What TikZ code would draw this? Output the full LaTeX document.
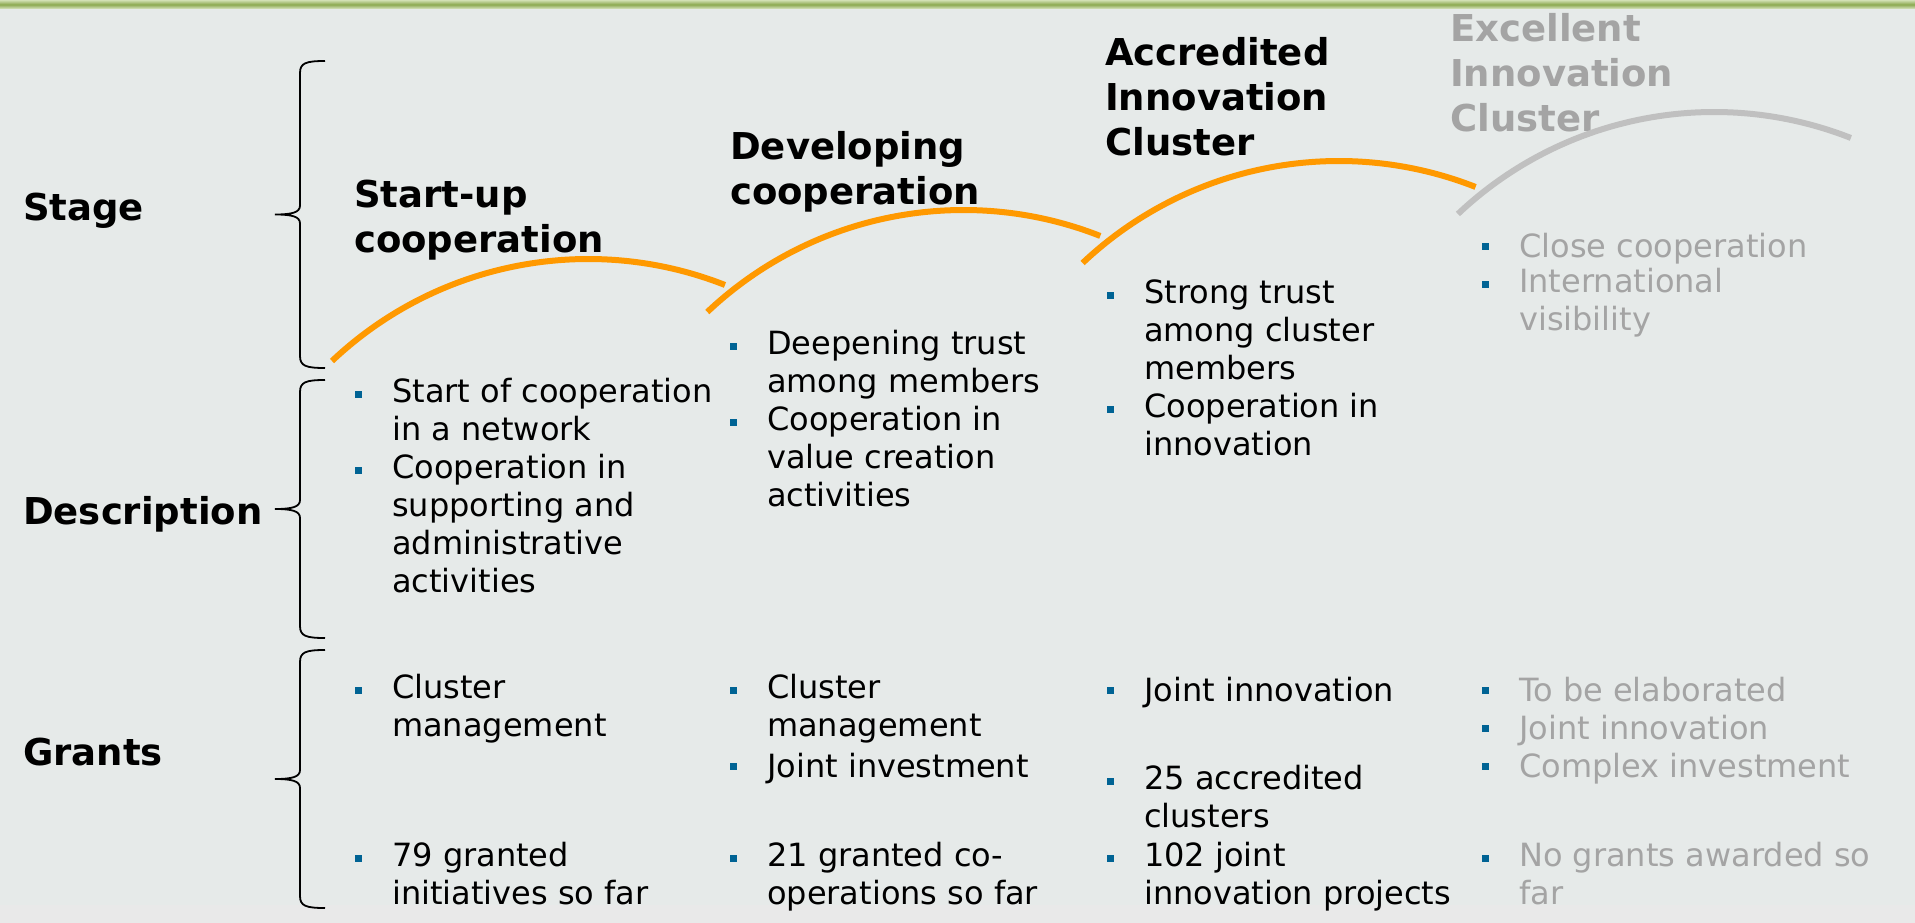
\documentclass[tikz,border=0pt]{standalone}
\usepackage{fontspec}
\setmainfont{DejaVu Sans}
\definecolor{panel}{RGB}{230,234,233}
\definecolor{panelfoot}{RGB}{233,233,233}
\definecolor{leaf}{RGB}{155,187,89}
\definecolor{stageorange}{RGB}{255,153,0}
\definecolor{futuregrey}{RGB}{192,192,192}
\definecolor{futuretext}{RGB}{164,164,164}
\definecolor{bulletblue}{RGB}{0,99,148}
\newcommand\bodysize{\fontsize{32}{38}\selectfont}
\newcommand\headsize{\fontsize{37}{45}\selectfont\bfseries}
\tikzset{
  rowlabel/.style={anchor=base west, inner sep=0pt, font=\headsize},
  stagehead/.style={anchor=north west, yshift=27pt, inner sep=0pt, align=left, font=\headsize, execute at begin node=\strut},
  itemtext/.style={anchor=north west, yshift=21.6pt, inner sep=0pt, align=left, font=\bodysize, execute at begin node=\strut},
  bsq/.style={fill=bulletblue, inner sep=0pt, minimum size=7pt},
  stagearc/.style={line width=6pt, stageorange},
  bracket/.style={line width=1.8pt, black},
}

\begin{document}
\begin{tikzpicture}[x=1pt, y=-1pt]%
  \useasboundingbox (0,0) rectangle (1915,923);
  \fill[panel] (0,0) rectangle (1915,923);
  \fill[panelfoot] (0,905) rectangle (1915,923);
  \shade[top color=leaf!45, bottom color=leaf!35, middle color=leaf!90!black] (0,0) rectangle (1915,9);
  % row brackets
  \foreach \t/\b in {61/368, 380/638, 650/908} {
    \draw[bracket]
    (325,\t) .. controls (306,\t) and (300,{\t+2}) .. (300,{\t+12})
    -- (300,{(\t+\b)/2-9}) .. controls (300,{(\t+\b)/2-2}) and (292,{(\t+\b)/2}) .. (275,{(\t+\b)/2})
    .. controls (292,{(\t+\b)/2}) and (300,{(\t+\b)/2+2}) .. (300,{(\t+\b)/2+9})
    -- (300,{\b-12}) .. controls (300,{\b-2}) and (306,\b) .. (325,\b)
    ;
  }
  \node[rowlabel] (stage) at (23,220) {Stage};
  \node[rowlabel] (description) at (23,524) {Description};
  \node[rowlabel] (grants) at (23,765) {Grants};
  % stages
  \node[stagehead] (startup) at (354,207) {Start-up\\cooperation};
  \node[stagehead] (developing) at (730,158) {Developing\\cooperation};
  \node[stagehead] (accredited) at (1105,64) {Accredited\\Innovation\\Cluster};
  \node[stagehead, text=futuretext] (excellent) at (1450,40) {Excellent\\Innovation\\Cluster};
  \foreach \k in {0, 1, 2} {
    \draw[stagearc] ({332+375.3*\k},{361-49*\k}) arc[start angle=-133.4, end angle=-68.5, radius=373];
  }
  \draw[stagearc, futuregrey] ({332+375.3*3},{361-49*3}) arc[start angle=-133.4, end angle=-68.5, radius=373];
  % bullet lists
  \foreach \nm/\x/\y/\txt in {
    da/392/400/{Start of cooperation\\in a network},
    db/392/476/{Cooperation in\\supporting and\\administrative\\activities},
    dc/767/352/{Deepening trust\\among members},
    dd/767/428/{Cooperation in\\value creation\\activities},
    de/1144/301/{Strong trust\\among cluster\\members},
    df/1144/415/{Cooperation in\\innovation},
    ga/392/696/{Cluster\\management},
    gb/392/864/{79 granted\\initiatives so far},
    gc/767/696/{Cluster\\management},
    gd/767/772/{Joint investment},
    ge/767/864/{21 granted co-\\operations so far},
    gf/1144/696/{Joint innovation},
    gg/1144/787/{25 accredited\\clusters},
    gh/1144/864/{102 joint\\innovation projects}} {
    \node[itemtext] (\nm) at (\x,\y) {\txt};
    \node[bsq] (\nm-b) at ([shift={(-34,15.6)}]\nm.north west) {};
  }
  \foreach \nm/\y/\txt in {
    dx/252/{Close cooperation},
    dy/290/{International\\visibility},
    gx/696/{To be elaborated},
    gy/734/{Joint innovation},
    gz/772/{Complex investment},
    gw/864/{No grants awarded so\\far}} {
    \node[itemtext, text=futuretext] (\nm) at (1519,\y) {\txt};
    \node[bsq] (\nm-b) at ([shift={(-34,15.6)}]\nm.north west) {};
  }
\end{tikzpicture}
\end{document}
